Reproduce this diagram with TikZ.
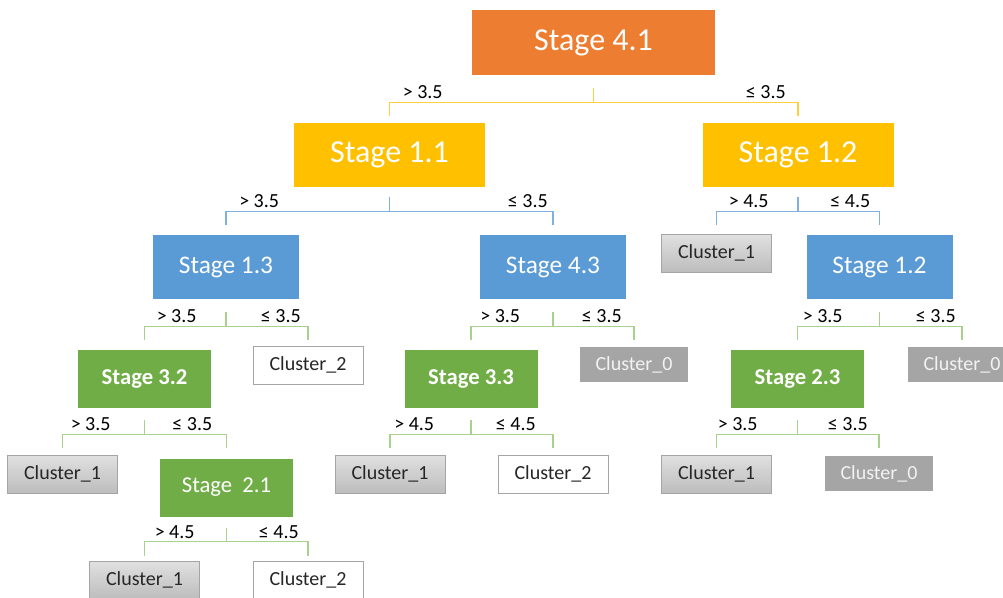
\documentclass[tikz,border=0pt]{standalone}
\usepackage{fontspec}
\setmainfont{Carlito}
\usetikzlibrary{calc}
\definecolor{corange}{HTML}{ED7D31}
\definecolor{cyellow}{HTML}{FFC000}
\definecolor{cblue}{HTML}{5B9BD5}
\definecolor{cgreen}{HTML}{70AD47}
\definecolor{lyellow}{HTML}{FFCF40}
\definecolor{lblue}{HTML}{7FB0DF}
\definecolor{lgreen}{HTML}{A9D18E}
\definecolor{cgray}{HTML}{A5A5A5}
\definecolor{ctext}{HTML}{262626}
\tikzset{
  box/.style={rectangle, inner sep=0pt, align=center},
  big/.style={box, text=white, minimum width=143.25pt, minimum height=48pt, font=\fontsize{24}{28}\selectfont},
  top/.style={big, fill=corange, minimum width=182.25pt, minimum height=48.75pt},
  yel/.style={big, fill=cyellow},
  blu/.style={box, fill=cblue, text=white, minimum width=109.5pt, minimum height=48pt, font=\fontsize{19}{23}\selectfont},
  grn/.style={box, fill=cgreen, text=white, minimum width=99.75pt, minimum height=43.5pt, font=\fontsize{17}{20}\selectfont\bfseries},
  grnr/.style={grn, font=\fontsize{17}{20}\selectfont},
  cl/.style={box, minimum width=82.5pt, minimum height=28.5pt, text=ctext, font=\fontsize{15}{18}\selectfont},
  clgray/.style={cl, draw=cgray, line width=0.6pt, top color=white!88!black, bottom color=white!74!black},
  clwhite/.style={cl, draw=cgray, line width=0.6pt, fill=white},
  clzero/.style={cl, fill=cgray, text=white!95!black, minimum width=81pt, minimum height=26.25pt},
  lab/.style={inner sep=0pt, font=\fontsize{15}{18}\selectfont, text=black},
  ly/.style={draw=lyellow, line width=0.9pt},
  lb/.style={draw=lblue, line width=0.9pt},
  lg/.style={draw=lgreen, line width=0.9pt},
}
% #1 parent, #2 left child, #3 right child, #4 line style, #5 stem gap (px),
% #6 left label, #7 right label, #8 left label offset, #9 right label offset
\newcommand\brk[9]{%
  \draw[#4] ($(#1.south)+(0,#5)$) -- ++(0,14) coordinate (#1h);
  \draw[#4] ($(#1h -| #2.north)+(0,14)$) -- (#1h -| #2.north) -- (#1h -| #3.north) -- ++(0,14);
  \node[lab, anchor=base west] (#1ll) at ($(#1h -| #2.north)+(#8,-3.5)$) {#6};
  \node[lab, anchor=base east] (#1rl) at ($(#1h -| #3.north)+(-#9,-3.5)$) {#7};
}
\begin{document}
\begin{tikzpicture}[x=0.75pt, y=-0.75pt]
\useasboundingbox (0,0) rectangle (1003,597);
% level 0
\node[top] (s41) at (593.5,42.5) {Stage 4.1};
% level 1
\node[yel] (s11) at (389.5,155) {Stage 1.1};
\node[yel] (s12) at (798,155) {Stage 1.2};
% level 2
\node[blu] (s13) at (226,267) {Stage 1.3};
\node[blu] (s43) at (553,267) {Stage 4.3};
\node[clgray] (c1a) at (716.5,253) {Cluster\_1};
\node[blu] (s12b) at (879.5,267) {Stage 1.2};
% level 3
\node[grn] (s32) at (144.5,379) {Stage 3.2};
\node[clwhite] (c2a) at (308,365) {Cluster\_2};
\node[grn] (s33) at (471,379) {Stage 3.3};
\node[clzero] (c0a) at (634,364.5) {Cluster\_0};
\node[grn] (s23) at (797.5,379) {Stage 2.3};
\node[clzero] (c0b) at (962,364.5) {Cluster\_0};
% level 4
\node[clgray] (c1b) at (62.5,474) {Cluster\_1};
\node[grnr] (s21) at (226.5,487.5) {Stage\ \ 2.1};
\node[clgray] (c1c) at (390,474) {Cluster\_1};
\node[clwhite] (c2b) at (553,474) {Cluster\_2};
\node[clgray] (c1d) at (716.5,474) {Cluster\_1};
\node[clzero] (c0c) at (879,473.5) {Cluster\_0};
% level 5
\node[clgray] (c1e) at (144.5,580) {Cluster\_1};
\node[clwhite] (c2c) at (308,580) {Cluster\_2};
% brackets
\brk{s41}{s11}{s12}{ly}{13}{> 3.5}{≤ 3.5}{13}{12}
\brk{s11}{s13}{s43}{lb}{10}{> 3.5}{≤ 3.5}{13}{5}
\brk{s12}{c1a}{s12b}{lb}{10}{> 4.5}{≤ 4.5}{12}{9}
\brk{s13}{s32}{c2a}{lg}{13}{> 3.5}{≤ 3.5}{12}{7}
\brk{s43}{s33}{c0a}{lg}{13}{> 3.5}{≤ 3.5}{9}{12}
\brk{s12b}{s23}{c0b}{lg}{13}{> 3.5}{≤ 3.5}{5}{6}
\brk{s32}{c1b}{s21}{lg}{12}{> 3.5}{≤ 3.5}{8}{14}
\brk{s33}{c1c}{c2b}{lg}{12}{> 4.5}{≤ 4.5}{4}{17}
\brk{s23}{c1d}{c0c}{lg}{12}{> 3.5}{≤ 3.5}{1}{11}
\brk{s21}{c1e}{c2c}{lg}{11}{> 4.5}{≤ 4.5}{10}{9}
\end{tikzpicture}
\end{document}
